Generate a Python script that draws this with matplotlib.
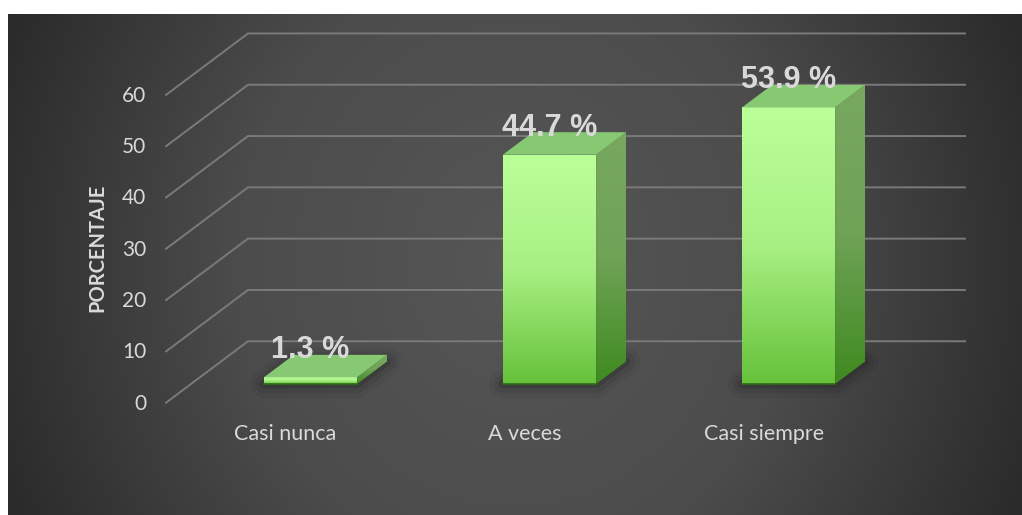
import numpy as np
import matplotlib
matplotlib.use('Agg')
import matplotlib.pyplot as plt
from matplotlib.patches import Polygon
from matplotlib.colors import LinearSegmentedColormap

categories = ['Casi nunca', 'A veces', 'Casi siempre']
values = [1.3, 44.7, 53.9]
value_labels = ['1.3 %', '44.7 %', '53.9 %']
y_ticks = [0, 10, 20, 30, 40, 50, 60]

W, H = 1022, 515
CAT_PX = 239.0      # pixels per category
VAL_PX = 5.13       # pixels per percent
X0_PX, Y0_PX = 310.5, 384.0
BAR_W = 0.39
DEPTH_X = 30.0 / CAT_PX
DEPTH_Y = 22.5 / VAL_PX
BACK_Z = 1.9
FRONT_Z = -0.83

TEXT = '#d9d9d9'
GRID = '#7a7a7a'


def proj(x, v, z=0.0):
    # oblique projection: z moves a point up and to the right
    return x + z * DEPTH_X, v + z * DEPTH_Y


def shaded_face(ax, pts, colors, zorder):
    # vertical gradient clipped to a polygon
    pts = np.array(pts)
    cmap = LinearSegmentedColormap.from_list('face', colors)
    grad = np.linspace(0, 1, 128).reshape(-1, 1)
    x0, x1 = pts[:, 0].min(), pts[:, 0].max()
    y0, y1 = pts[:, 1].min(), pts[:, 1].max()
    im = ax.imshow(grad, cmap=cmap, extent=(x0, x1, y0, y1), origin='upper',
                   aspect='auto', zorder=zorder, interpolation='bilinear')
    clip = Polygon(pts, closed=True, transform=ax.transData, fc='none', ec='none')
    ax.add_patch(clip)
    im.set_clip_path(clip)


fig = plt.figure(figsize=(W / 100, H / 100), dpi=100, facecolor='white')

# dark panel with a soft radial gradient
bg = fig.add_axes([8 / W, 0, (W - 8) / W, (H - 14) / H])
xx, yy = np.meshgrid(np.linspace(-1, 1, 500), np.linspace(-1, 1, 250))
rr = np.sqrt(xx ** 2 + (yy * 0.45) ** 2) / np.sqrt(1 + 0.45 ** 2)
panel = LinearSegmentedColormap.from_list('panel', ['#565656', '#4c4c4c', '#2a2a2a'])
bg.imshow(rr, cmap=panel, vmin=0, vmax=1, aspect='auto', interpolation='bilinear')
bg.axis('off')

ax = fig.add_axes([0, 0, 1, 1])
ax.patch.set_alpha(0)
ax.axis('off')

# back wall gridlines and their slanted side-wall segments
for t in y_ticks:
    pts = [proj(-0.5, t, FRONT_Z), proj(-0.5, t, BACK_Z), proj(2.5, t, BACK_Z)]
    ax.plot(*zip(*pts), color=GRID, lw=1.4, zorder=1, solid_joinstyle='miter')
    tx, ty = proj(-0.5, t, FRONT_Z)
    ax.text(tx - 20 / CAT_PX, ty - 1 / VAL_PX, str(t), color=TEXT, ha='right', va='center',
            fontsize=15, family='Lato', zorder=6)

for i, (name, val, lab) in enumerate(zip(categories, values, value_labels)):
    x0, x1 = i - BAR_W / 2, i + BAR_W / 2

    # floor shadow
    foot = [proj(x0, 0, 0), proj(x1, 0, 0), proj(x1, 0, 1), proj(x0, 0, 1)]
    for lw, a in [(20, 0.07), (13, 0.12), (6, 0.20)]:
        ax.add_patch(Polygon(foot, closed=True, fc='#1c1c1c', ec='#1c1c1c', lw=lw,
                             alpha=a, joinstyle='round', zorder=2))

    front = [proj(x0, 0), proj(x1, 0), proj(x1, val), proj(x0, val)]
    side = [proj(x1, 0), proj(x1, 0, 1), proj(x1, val, 1), proj(x1, val)]
    top = [proj(x0, val), proj(x1, val), proj(x1, val, 1), proj(x0, val, 1)]

    shaded_face(ax, side, ['#78a860', '#6fa356', '#3f8a20'], 3)
    shaded_face(ax, front, ['#bbff99', '#a8f083', '#66c23a'], 4)
    ax.add_patch(Polygon(top, closed=True, fc='#87c873', ec='none', zorder=4))
    ax.plot([x0, x1], [0, 0], color='#2f6b18', lw=1.2, zorder=5)

    lx, ly = proj(i, val)
    ax.text(lx, ly + 27 / VAL_PX, lab, color=TEXT, ha='center', va='center',
            fontsize=22, fontweight='bold', family='Liberation Sans', zorder=7)

    cx, _ = proj(i, 0, FRONT_Z)
    ax.text(cx, -50 / VAL_PX, name, color=TEXT, ha='center', va='center',
            fontsize=15.5, family='Lato', zorder=6)

ax.text(-213.5 / CAT_PX, 136 / VAL_PX, 'PORCENTAJE', color=TEXT, rotation=90, ha='center', va='center',
        fontsize=14.5, fontweight='bold', family='Lato', zorder=6)

# axes limits last, imshow resets them
ax.set_xlim(-X0_PX / CAT_PX, (W - X0_PX) / CAT_PX)
ax.set_ylim(-(H - Y0_PX) / VAL_PX, Y0_PX / VAL_PX)

fig.savefig('out.png', dpi=100, facecolor='white')
